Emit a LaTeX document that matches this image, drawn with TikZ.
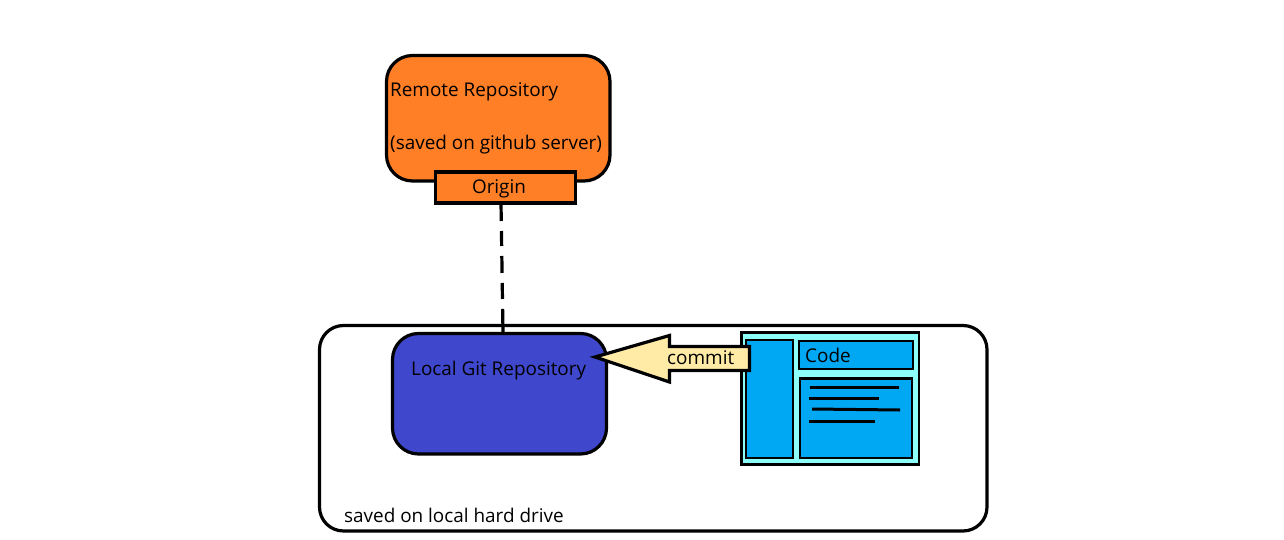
\documentclass[tikz,border=0pt]{standalone}
\usepackage{fontspec}
\setmainfont{Open Sans}
\definecolor{orangeb}{HTML}{FF7F27}
\definecolor{blueb}{HTML}{3F48CC}
\definecolor{skyb}{HTML}{00A8F3}
\definecolor{cyanb}{HTML}{8CFFFB}
\definecolor{yellowb}{HTML}{FFEBA6}
\tikzset{
  box/.style={draw=black,line width=3.2pt,inner sep=0pt,outer sep=0pt},
  winbox/.style={draw=black,line width=2.8pt},
  lbl/.style={inner sep=0pt,font=\fontsize{18.9pt}{22pt}\selectfont,anchor=base west},
  scribble/.style={draw=black,line width=3pt}
}
\begin{document}
\begin{tikzpicture}[x=1pt,y=-1pt]
\useasboundingbox[fill=white] (0,0) rectangle (1284,540);
% remote repository
\draw[box,fill=orangeb,rounded corners=26pt] (386.5,55.5) rectangle (610,181);
\node[lbl] (remote) at (390,96.5) {Remote Repository};
\node[lbl] (saved) at (390,150) {(saved on github server)};
\node[box,fill=orangeb,minimum width=140pt,minimum height=31pt] (origin) at (505.5,187.5) {};
\node[lbl,anchor=base] (origintext) at (499,193.5) {Origin};
% local drive
\draw[box,rounded corners=24pt] (319.5,325.5) rectangle (987,531);
\node[lbl] (drive) at (344,522) {saved on local hard drive};
% local git repo
\node[box,fill=blueb,rounded corners=26pt,minimum width=214pt,minimum height=120.5pt] (local) at (499.5,393.75) {};
\node[lbl] (git) at (411,375) {Local Git Repository};
\draw[line width=3.2pt,dash pattern=on 18pt off 10pt on 15pt off 10pt on 17pt off 10pt on 16pt off 10pt on 40pt off 0pt] (origin.south -| 501,0) -- (local.north -| 503,0);
% editor window
\draw[winbox,fill=cyanb] (741.5,332.5) rectangle (919,464.5);
\draw[winbox,fill=skyb] (746,340) rectangle (793,458);
\draw[winbox,fill=skyb] (799,341) rectangle (913,369);
\draw[winbox,fill=skyb] (800,378.5) rectangle (912,458);
\node[lbl] (code) at (805,362) {Code};
\draw[scribble] (810,387) -- (899,387);
\draw[scribble] (809,398) -- (879,398);
\draw[scribble] (812,409) -- (900,410);
\draw[scribble] (809,421) -- (875,421);
% commit arrow
\draw[box,fill=yellowb,line join=miter] (595,357) -- (669.5,335.5) -- (669.5,346.5) -- (749.5,346.5) -- (749.5,370.5) -- (669.5,370.5) -- (669.5,382) -- cycle;
\node[lbl] (commit) at (667,364) {commit};
\end{tikzpicture}
\end{document}
